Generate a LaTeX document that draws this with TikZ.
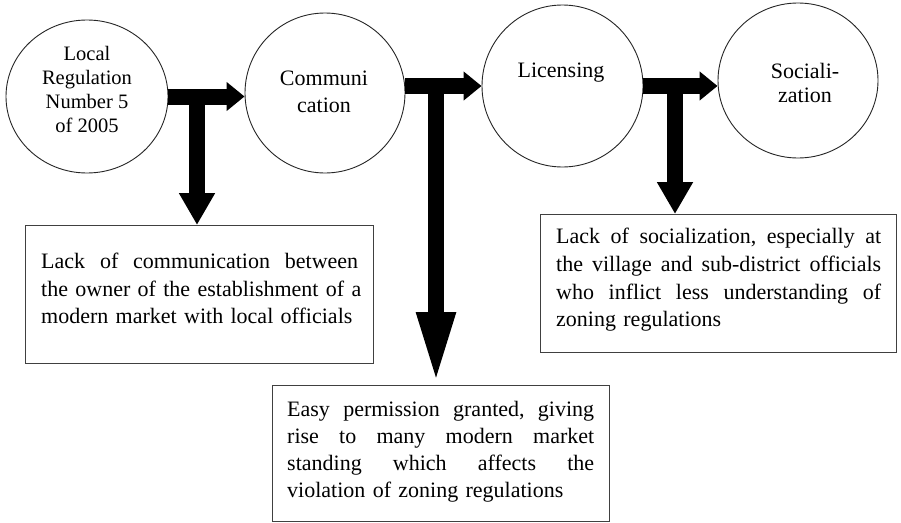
\documentclass[tikz,border=0pt]{standalone}
\usepackage{fontspec}
\setmainfont{Liberation Serif}
\usetikzlibrary{arrows.meta,shapes.geometric}
\newcommand{\jline}[2]{\leavevmode\hbox to #1{#2}}
\newcommand{\gap}{\ \hfil}
\begin{document}
\begin{tikzpicture}[x=1pt,y=-1pt,
  stage/.style={draw=black!85, line width=0.9pt, ellipse, inner sep=0pt},
  stagetext/.style={anchor=north, align=center, inner sep=0pt},
  infobox/.style={draw=black!75, line width=1.2pt, rectangle, inner sep=0pt, anchor=north west},
  infotext/.style={anchor=north west, align=left, inner sep=0pt, font=\fontsize{22}{27.5}\selectfont},
  hbar/.style={line width=16pt, -{Triangle[length=18pt,width=28pt]}},
  vbar/.style={line width=16pt, -{Triangle[length=32pt,width=34pt]}},
  vbarlong/.style={line width=16pt, -{Triangle[length=73pt,width=35pt]}}]
\useasboundingbox (0,0) rectangle (901,522);
\fill[white] (0,0) rectangle (901,522);

% stages
\node[stage, minimum width=162pt, minimum height=153pt] (c1) at (87,96.5) {};
\node[stage, minimum width=160pt, minimum height=160pt] (c2) at (325,93) {};
\node[stage, minimum width=161pt, minimum height=162pt] (c3) at (562.5,86) {};
\node[stage, minimum width=160pt, minimum height=155pt] (c4) at (798,80.5) {};

\node[stagetext, font=\fontsize{20.5}{24}\selectfont] (t1) at (87,46.5) {Local\\Regulation\\Number 5\\of 2005};
\node[stagetext, font=\fontsize{22}{26.5}\selectfont] (t2) at (324,71) {Communi\\cation};
\node[stagetext, font=\fontsize{22}{26}\selectfont] (t3) at (561,63) {Licensing};
\node[stagetext, font=\fontsize{22}{24}\selectfont] (t4) at (805,63) {Sociali-\\zation};

% boxes
\node[infobox, minimum width=348pt, minimum height=138pt] (b1) at (25,225) {};
\node[infobox, minimum width=337pt, minimum height=136pt] (b2) at (272,385) {};
\node[infobox, minimum width=356pt, minimum height=138pt] (b3) at (540,214) {};

\node[infotext, text width=317pt] (x1) at (41,253) {%
\jline{317pt}{Lack\gap of\gap communication\gap between}\\
\jline{317pt}{the\gap owner\gap of\gap the\gap establishment\gap of\gap a}\\
modern market with local officials};
\node[infotext, text width=307pt, font=\fontsize{22}{27}\selectfont] (x2) at (287,401) {%
\jline{307pt}{Easy\gap permission\gap granted,\gap giving}\\
\jline{307pt}{rise\gap to\gap many\gap modern\gap market}\\
\jline{307pt}{standing\gap which\gap affects\gap the}\\
violation of zoning regulations};
\node[infotext, text width=325pt, font=\fontsize{22}{27.7}\selectfont] (x3) at (556,228) {%
\jline{325pt}{Lack\gap of\gap socialization,\gap especially\gap at}\\
\jline{325pt}{the\gap village\gap and\gap sub-district\gap officials}\\
\jline{325pt}{who\gap inflict\gap less\gap understanding\gap of}\\
zoning regulations};

% arrows
\coordinate (k1) at (197,96);
\coordinate (k2) at (436,87);
\coordinate (k3) at (675,86);
\draw[vbar] (k1) -- (k1 |- b1.north);
\draw[vbarlong] (k2) -- (k2 |- b2.north);
\draw[vbar] (k3) -- (k3 |- b3.north);
\draw[hbar] (c1.east) -- (c1.east -| c2.west);
\draw[hbar] (c2.east |- c3.west) -- (c3.west);
\draw[hbar] (c3.east) -- (c3.east -| c4.west);
\end{tikzpicture}
\end{document}
